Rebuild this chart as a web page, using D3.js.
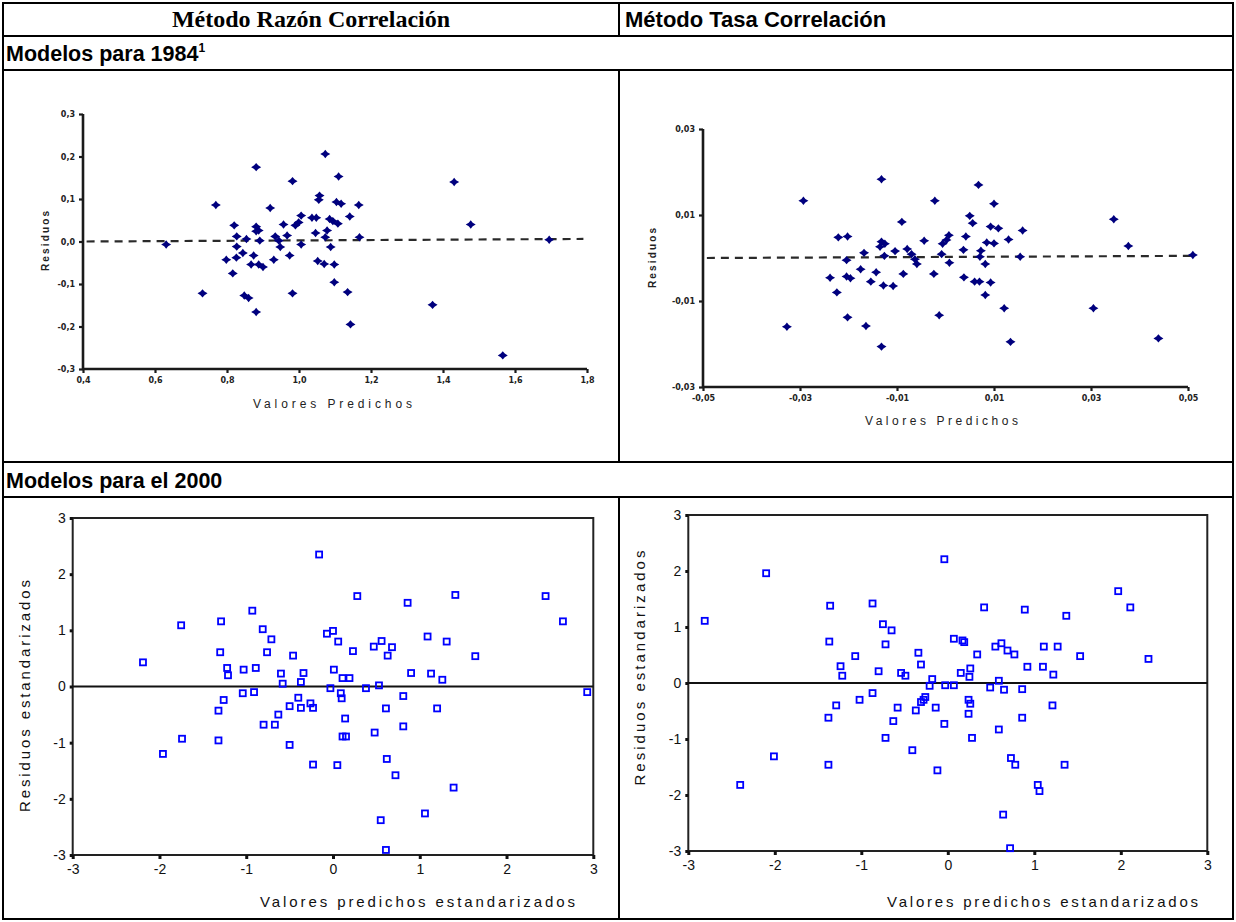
<!DOCTYPE html>
<html><head><meta charset="utf-8">
<script src="https://cdn.jsdelivr.net/npm/d3@7/dist/d3.min.js"></script>
<style>body{margin:0;background:#fff}svg{display:block}</style>
</head><body><svg id="c" width="1236" height="922"></svg>
<script>
// ---------- DATA ----------
// Modelos para 1984 – Método Razón Correlación
const tlPred = [0.631,0.769,0.732,0.820,0.827,0.827,0.798,0.826,0.816,0.844,0.854,0.848,0.860,0.881,0.881,0.881,0.888,0.874,0.867,0.888,0.900,0.891,0.881,0.920,0.930,0.934,0.944,0.948,0.957,0.967,0.974,0.982,0.982,0.990,0.999,1.006,1.006,1.036,1.048,1.046,1.052,1.055,1.057,1.073,1.070,1.073,1.078,1.085,1.088,1.094,1.098,1.098,1.104,1.110,1.108,1.117,1.135,1.141,1.143,1.166,1.168,1.431,1.477,1.371,1.566,1.695];
const tlResid = [-0.007,0.086,-0.122,0.038,0.012,-0.012,-0.043,-0.038,-0.075,-0.027,0.006,-0.127,-0.133,0.175,-0.166,0.035,0.026,-0.033,-0.054,-0.054,-0.060,0.002,0.024,0.079,-0.043,0.012,0.002,-0.013,0.040,0.014,-0.033,0.142,-0.122,0.038,0.045,0.061,-0.007,0.056,0.056,0.020,-0.046,0.098,0.108,0.206,-0.053,0.010,0.026,0.053,-0.013,0.048,-0.054,-0.096,0.093,0.153,0.042,0.089,-0.119,0.059,-0.195,0.086,0.010,0.140,0.040,-0.149,-0.268,0.004];
const tlFitX = [0.41, 1.79];
const tlFitY = [0.000, 0.006];
const tlXTicks = [0.4,0.6,0.8,1.0,1.2,1.4,1.6,1.8];
const tlXLabels = ["0,4","0,6","0,8","1,0","1,2","1,4","1,6","1,8"];
const tlYTicks = [0.3,0.2,0.1,0.0,-0.1,-0.2,-0.3];
const tlYLabels = ["0,3","0,2","0,1","0,0","-0,1","-0,2","-0,3"];

// Modelos para 1984 – Método Tasa Correlación
const trPred = [-0.0327,-0.0293,-0.0238,-0.0224,-0.0221,-0.0202,-0.0204,-0.0204,-0.0196,-0.0202,-0.0175,-0.0168,-0.0164,-0.0154,-0.0143,-0.0132,-0.0132,-0.0135,-0.0132,-0.0125,-0.0128,-0.0126,-0.0108,-0.0104,-0.0090,-0.0087,-0.0079,-0.0070,-0.0063,-0.0059,-0.0044,-0.0022,-0.0024,-0.0013,-0.0008,-0.0006,0.0002,0.0007,0.0008,0.0037,0.0038,0.0042,0.0050,0.0056,0.0060,0.0070,0.0068,0.0073,0.0071,0.0082,0.0082,0.0085,0.0093,0.0093,0.0100,0.0100,0.0109,0.0121,0.0130,0.0134,0.0154,0.0159,0.0305,0.0347,0.0377,0.0439,0.0510];
const trResid = [-0.0160,0.0133,-0.0046,-0.0080,0.0048,0.0050,-0.0005,-0.0043,-0.0047,-0.0138,-0.0026,0.0012,-0.0158,-0.0055,-0.0033,0.0183,-0.0206,0.0026,0.0038,0.0033,-0.0064,0.0005,-0.0065,0.0016,0.0084,-0.0037,0.0021,0.0009,-0.0003,-0.0014,0.0040,0.0133,-0.0037,-0.0133,0.0009,0.0033,0.0042,0.0053,-0.0011,0.0019,-0.0045,0.0050,0.0098,0.0081,-0.0055,-0.0055,0.0170,0.0017,0.0003,-0.0014,-0.0086,0.0036,-0.0057,0.0073,0.0126,0.0034,0.0069,-0.0117,0.0043,-0.0195,0.0003,0.0064,-0.0117,0.0090,0.0028,-0.0187,0.0007];
const trFitX = [-0.0492, 0.0511];
const trFitY = [0.0000, 0.0005];
const trXTicks = [-0.05,-0.03,-0.01,0.01,0.03,0.05];
const trXLabels = ["-0,05","-0,03","-0,01","0,01","0,03","0,05"];
const trYTicks = [0.03,0.01,-0.01,-0.03];
const trYLabels = ["0,03","0,01","-0,01","-0,03"];

// Modelos para el 2000 – Método Razón Correlación
const blPred = [-2.19,-1.96,-1.75,-1.74,-1.30,-1.29,-1.32,-1.32,-1.26,-1.22,-1.21,-1.03,-1.04,-0.93,-0.89,-0.91,-0.81,-0.80,-0.76,-0.71,-0.67,-0.63,-0.60,-0.58,-0.50,-0.50,-0.46,-0.40,-0.37,-0.37,-0.34,-0.26,-0.23,-0.23,-0.16,-0.07,0.00,0.06,0.01,-0.03,0.09,0.10,0.11,0.19,0.14,0.11,0.15,0.05,0.23,0.28,0.38,0.47,0.53,0.56,0.48,0.61,0.63,0.68,0.62,0.55,0.61,0.72,0.81,0.81,0.86,0.90,1.06,1.09,1.13,1.20,1.26,1.31,1.39,1.41,1.64,2.45,2.65,2.93];
const blResid = [0.43,-1.20,1.09,-0.93,0.61,1.16,-0.43,-0.96,-0.24,0.33,0.20,0.30,-0.12,1.35,0.33,-0.10,1.02,-0.68,0.61,0.84,-0.68,-0.50,0.23,0.05,-0.35,-1.04,0.55,-0.20,-0.38,0.08,0.24,-0.30,-0.38,-1.39,2.35,0.94,0.99,0.80,0.30,-0.03,-0.12,-0.21,0.15,0.15,-0.57,-0.89,-0.89,-1.40,0.63,1.61,-0.03,0.71,0.02,0.81,-0.82,-0.39,0.55,0.70,-1.29,-2.38,-2.91,-1.58,-0.17,-0.71,1.49,0.24,-2.26,0.89,0.23,-0.39,0.12,0.80,-1.80,1.63,0.54,1.61,1.16,-0.10];

// Modelos para el 2000 – Método Tasa Correlación
const brPred = [-2.81,-2.40,-2.10,-2.01,-1.36,-1.37,-1.38,-1.38,-1.29,-1.24,-1.22,-1.07,-1.02,-0.87,-0.87,-0.80,-0.75,-0.72,-0.72,-0.65,-0.63,-0.58,-0.54,-0.49,-0.41,-0.37,-0.34,-0.31,-0.31,-0.28,-0.26,-0.21,-0.18,-0.14,-0.12,-0.04,-0.04,-0.03,0.07,0.07,0.15,0.17,0.19,0.24,0.26,0.24,0.25,0.26,0.28,0.34,0.42,0.49,0.55,0.59,0.59,0.62,0.65,0.64,0.69,0.73,0.78,0.72,0.77,0.86,0.86,0.89,0.92,1.04,1.06,1.10,1.11,1.21,1.22,1.27,1.35,1.37,1.53,1.97,2.11,2.32];
const brResid = [1.11,-1.82,1.96,-1.31,1.38,0.74,-0.62,-1.46,-0.40,0.30,0.13,0.48,-0.30,1.42,-0.18,0.21,1.05,0.69,-0.98,0.94,-0.68,-0.44,0.18,0.13,-1.20,-0.49,0.54,0.33,-0.34,-0.30,-0.25,-0.05,0.07,-0.44,-1.56,2.21,-0.73,-0.04,0.79,-0.04,0.18,0.76,0.73,-0.30,-0.37,-0.55,0.11,0.26,-0.98,0.51,1.35,-0.08,0.65,0.04,-0.83,0.71,-0.12,-2.35,0.58,-1.34,-1.46,-2.95,0.51,-0.11,-0.62,1.31,0.29,-1.82,-1.93,0.29,0.65,-0.40,0.15,0.65,-1.46,1.20,0.48,1.64,1.35,0.43];

const stdTicks = [-3,-2,-1,0,1,2,3];
const stdLabels = ["-3","-2","-1","0","1","2","3"];

const headers = ["Método Razón Correlación","Método Tasa Correlación"];
const rowTitles = ["Modelos para 1984","Modelos para el 2000"];

// ---------- DRAW ----------
const svg = d3.select("#c");
const SANS = "'Liberation Sans', Arial, sans-serif";

// table
const L = 3, M = 619, R = 1233;
const rows = [3, 36, 70, 462, 497, 919];
const tbl = svg.append("g").attr("stroke","#000").attr("stroke-width",2);
rows.forEach(y => tbl.append("line").attr("x1",L-1).attr("x2",R+1).attr("y1",y).attr("y2",y));
[L,R].forEach(x => tbl.append("line").attr("x1",x).attr("x2",x).attr("y1",rows[0]).attr("y2",rows[5]));
[[0,1],[2,3],[4,5]].forEach(([a,b]) => tbl.append("line").attr("x1",M).attr("x2",M).attr("y1",rows[a]).attr("y2",rows[b]));

svg.append("text").attr("x",(L+M)/2).attr("y",27).attr("text-anchor","middle")
  .attr("font-family","'Liberation Serif','Times New Roman',serif").attr("font-weight","bold")
  .attr("font-size",24).text(headers[0]);
svg.append("text").attr("x",M+6).attr("y",27)
  .attr("font-family",SANS).attr("font-weight","bold").attr("font-size",22).text(headers[1]);

function rowTitle(t, y, sup){
  const tx = svg.append("text").attr("x",L+3).attr("y",y)
    .attr("font-family",SANS).attr("font-weight","bold").attr("font-size",21.5).text(t);
  if (sup) tx.append("tspan").attr("font-size",12).attr("dy",-9).text(sup);
}
rowTitle(rowTitles[0], 61, "1");
rowTitle(rowTitles[1], 488, null);

const diamond = "M-5,0L-2,-1.8L0,-4.2L2,-1.8L5,0L2,1.8L0,4.2L-2,1.8Z";

function topPlot(o){
  const x = d3.scaleLinear().domain(o.xd).range([o.l,o.r]);
  const y = d3.scaleLinear().domain(o.yd).range([o.b,o.t]);
  const g = svg.append("g");
  const ax = g.append("g").attr("transform",`translate(0,${o.b})`)
    .call(d3.axisBottom(x).tickValues(o.xt).tickFormat((d,i)=>o.xl[i]).tickSize(4).tickSizeOuter(0).tickPadding(4));
  const ay = g.append("g").attr("transform",`translate(${o.l},0)`)
    .call(d3.axisLeft(y).tickValues(o.yt).tickFormat((d,i)=>o.yl[i]).tickSize(4).tickSizeOuter(0).tickPadding(4));
  [ax,ay].forEach(a => {
    a.select(".domain").remove();
    a.selectAll(".tick line").style("stroke","#1a1a1a").style("stroke-width","2.2px");
    a.selectAll("text").attr("font-family","'DejaVu Sans',sans-serif").attr("font-size",8).attr("font-weight","bold").attr("fill","#222");
  });
  // axis lines
  g.append("line").attr("x1",o.l).attr("x2",o.r).attr("y1",o.b).attr("y2",o.b)
    .style("stroke","#1a1a1a").style("stroke-width","2.6px");
  g.append("line").attr("x1",o.l).attr("x2",o.l).attr("y1",o.t).attr("y2",o.b)
    .style("stroke","#1a1a1a").style("stroke-width","2.6px");
  g.append("path").attr("d", d3.line().x(d=>x(d[0])).y(d=>y(d[1]))(o.fx.map((v,i)=>[v,o.fy[i]])))
    .attr("stroke","#2a2a2a").attr("stroke-width",2.2).attr("stroke-dasharray","8,6").attr("fill","none");
  g.selectAll("path.pt").data(o.px.map((v,i)=>[v,o.py[i]])).join("path").attr("class","pt")
    .attr("d",diamond).attr("transform",d=>`translate(${x(d[0])},${y(d[1])})`).attr("fill","#00007e");
  g.append("text").attr("x",(o.tx0+o.tx1)/2).attr("y",o.ty).attr("text-anchor","middle")
    .attr("font-family",SANS).attr("font-size",12).attr("fill","#222")
    .attr("textLength",o.tx1-o.tx0).attr("lengthAdjust","spacing").text("Valores Predichos");
  g.append("text").attr("transform",`translate(${o.rx},${o.ry}) rotate(-90)`).attr("text-anchor","middle")
    .attr("font-family",SANS).attr("font-size",10).attr("font-weight","bold").attr("fill","#222")
    .attr("textLength",60).attr("lengthAdjust","spacing").text("Residuos");
}

topPlot({l:83,r:587,t:114,b:369,xd:[0.4,1.8],yd:[-0.3,0.3],xt:tlXTicks,xl:tlXLabels,yt:tlYTicks,yl:tlYLabels,
  fx:tlFitX,fy:tlFitY,px:tlPred,py:tlResid,tx0:253,tx1:412,ty:408,rx:49,ry:241});
topPlot({l:703,r:1188,t:129,b:387,xd:[-0.05,0.05],yd:[-0.03,0.03],xt:trXTicks,xl:trXLabels,yt:trYTicks,yl:trYLabels,
  fx:trFitX,fy:trFitY,px:trPred,py:trResid,tx0:865,tx1:1018,ty:425,rx:656,ry:258});

function botPlot(o){
  const x = d3.scaleLinear().domain([-3,3]).range([o.l,o.r]);
  const y = d3.scaleLinear().domain([-3,3]).range([o.b,o.t]);
  const g = svg.append("g");
  g.append("rect").attr("x",o.l).attr("y",o.t).attr("width",o.r-o.l).attr("height",o.b-o.t)
    .attr("fill","none").attr("stroke","#222").attr("stroke-width",2);
  const ax = g.append("g").attr("transform",`translate(0,${o.b})`)
    .call(d3.axisBottom(x).tickValues(stdTicks).tickFormat((d,i)=>stdLabels[i]).tickSize(4).tickSizeOuter(0).tickPadding(5));
  const ay = g.append("g").attr("transform",`translate(${o.l},0)`)
    .call(d3.axisLeft(y).tickValues(stdTicks).tickFormat((d,i)=>stdLabels[i]).tickSize(3).tickSizeOuter(0).tickPadding(4));
  [ax,ay].forEach(a => {
    a.select(".domain").remove();
    a.selectAll(".tick line").attr("stroke","#111").attr("stroke-width",3);
    a.selectAll("text").attr("font-family",SANS).attr("font-size",14).attr("fill","#111");
  });
  g.append("line").attr("x1",o.l).attr("x2",o.r).attr("y1",y(0)).attr("y2",y(0)).attr("stroke","#111").attr("stroke-width",1.8);
  g.selectAll("rect.pt").data(o.px.map((v,i)=>[v,o.py[i]])).join("rect").attr("class","pt")
    .attr("x",d=>x(d[0])-3).attr("y",d=>y(d[1])-3).attr("width",6).attr("height",6)
    .attr("fill","none").attr("stroke","#0000ff").attr("stroke-width",1.8);
  g.append("text").attr("x",o.tx1).attr("y",o.ty).attr("text-anchor","end")
    .attr("font-family",SANS).attr("font-size",15).attr("fill","#111")
    .attr("textLength",o.tx1-o.tx0).attr("lengthAdjust","spacing").text("Valores predichos estandarizados");
  g.append("text").attr("transform",`translate(${o.rx},${o.ry}) rotate(-90)`).attr("text-anchor","middle")
    .attr("font-family",SANS).attr("font-size",15).attr("fill","#111")
    .attr("textLength",o.rl).attr("lengthAdjust","spacing").text("Residuos estandarizados");
}

botPlot({l:72.7,r:593.3,t:518,b:855,px:blPred,py:blResid,tx0:260,tx1:575,ty:907,rx:30,ry:696,rl:232});
botPlot({l:688.3,r:1207.3,t:515,b:851,px:brPred,py:brResid,tx0:887,tx1:1198,ty:907,rx:645,ry:668,rl:235});
</script>
</body></html>
